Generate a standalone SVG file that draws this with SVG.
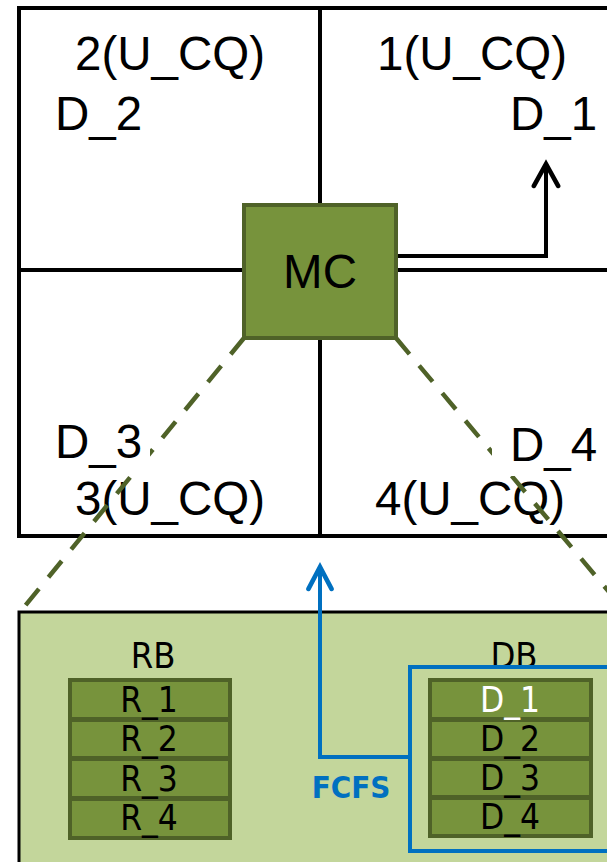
<svg xmlns="http://www.w3.org/2000/svg" width="607" height="862" viewBox="0 0 607 862">
<style>
.big{font-family:"Liberation Sans",Arial,sans-serif;font-size:47.5px;fill:#000}
.tb{font-family:"DejaVu Sans Condensed","DejaVu Sans",sans-serif;font-size:35px;fill:#000;text-anchor:middle}
.lbl{font-family:"DejaVu Sans Condensed","DejaVu Sans",sans-serif;font-size:36px;fill:#000;text-anchor:middle}
.cell{fill:#77933C}
.frame{fill:#4F6228}
.grid{fill:none;stroke:#000;stroke-width:4}
.dash{fill:none;stroke:#4F6228;stroke-width:4.5;stroke-dasharray:21 15}
</style>
<defs>
<marker id="chevK" markerUnits="userSpaceOnUse" markerWidth="30" markerHeight="30" viewBox="-22 -13 26 26" refX="0" refY="0" orient="auto">
<path d="M-19,-10.5 L0,0 L-19,10.5" fill="none" stroke="#000" stroke-width="4" stroke-linecap="round"/>
</marker>
<marker id="chevB" markerUnits="userSpaceOnUse" markerWidth="30" markerHeight="30" viewBox="-22 -13 26 26" refX="0" refY="0" orient="auto">
<path d="M-19,-10 L0,0 L-19,10" fill="none" stroke="#0070C0" stroke-width="4" stroke-linecap="round"/>
</marker>
</defs>
<rect width="607" height="862" fill="#fff"/>

<g id="grid">
<rect class="grid" x="19" y="8" width="600" height="528"/>
<line class="grid" x1="320" y1="8" x2="320" y2="536"/>
<line class="grid" x1="19" y1="270" x2="607" y2="270"/>
</g>

<g id="q2"><text class="big" x="75" y="70">2(U_CQ)</text><text class="big" x="55" y="130">D_2</text></g>
<g id="q1"><text class="big" x="377" y="70">1(U_CQ)</text><text class="big" x="510" y="130">D_1</text></g>
<g id="q3label"><text class="big" x="75" y="515">3(U_CQ)</text></g>
<g id="q4label"><text class="big" x="375" y="515">4(U_CQ)</text></g>

<g id="panel">
<rect x="19" y="612" width="600" height="270" fill="#C3D69B" stroke="#000" stroke-width="3"/>
</g>

<g id="connectors">
<line class="dash" x1="244" y1="338" x2="20" y2="612"/>
<line class="dash" x1="396" y1="338" x2="620" y2="605"/>
<path d="M396,256 H546 V164" fill="none" stroke="#000" stroke-width="4" marker-end="url(#chevK)"/>
<path d="M410,757 H320 V567" fill="none" stroke="#0070C0" stroke-width="4" marker-end="url(#chevB)"/>
</g>

<g id="q3"><rect x="50" y="418" width="100" height="58" fill="#fff"/><text class="big" x="55" y="458">D_3</text></g>
<g id="q4"><rect x="492" y="420" width="115" height="56" fill="#fff"/><text class="big" x="510" y="461">D_4</text></g>

<g id="MC">
<rect x="244" y="205" width="152" height="133" fill="#77933C" stroke="#4F6228" stroke-width="4"/>
<text class="big" x="320" y="288" text-anchor="middle">MC</text>
</g>

<g id="RB">
<text class="lbl" x="153" y="668">RB</text>
<rect class="frame" x="68" y="678" width="164" height="162"/>
<rect class="cell" x="72" y="682" width="156" height="35"/><text class="tb" x="149" y="712">R_1</text>
<rect class="cell" x="72" y="722" width="156" height="34"/><text class="tb" x="149" y="751">R_2</text>
<rect class="cell" x="72" y="761" width="156" height="35"/><text class="tb" x="149" y="791">R_3</text>
<rect class="cell" x="72" y="801" width="156" height="35"/><text class="tb" x="149" y="830">R_4</text>
</g>

<g id="DB">
<text class="lbl" x="514" y="668">DB</text>
<rect class="frame" x="428" y="678" width="165" height="160"/>
<rect class="cell" x="432" y="682" width="157" height="35"/><text class="tb" x="510" y="712" style="fill:#fff">D_1</text>
<rect class="cell" x="432" y="722" width="157" height="34"/><text class="tb" x="510" y="751">D_2</text>
<rect class="cell" x="432" y="761" width="157" height="34"/><text class="tb" x="510" y="790">D_3</text>
<rect class="cell" x="432" y="800" width="157" height="34"/><text class="tb" x="510" y="829">D_4</text>
<rect x="410" y="667" width="210" height="184" fill="none" stroke="#0070C0" stroke-width="4"/>
</g>

<g id="FCFS">
<text x="351" y="798" text-anchor="middle" style="font-family:'DejaVu Sans Condensed','DejaVu Sans',sans-serif;font-weight:bold;font-size:31px;fill:#0070C0">FCFS</text>
</g>
</svg>
